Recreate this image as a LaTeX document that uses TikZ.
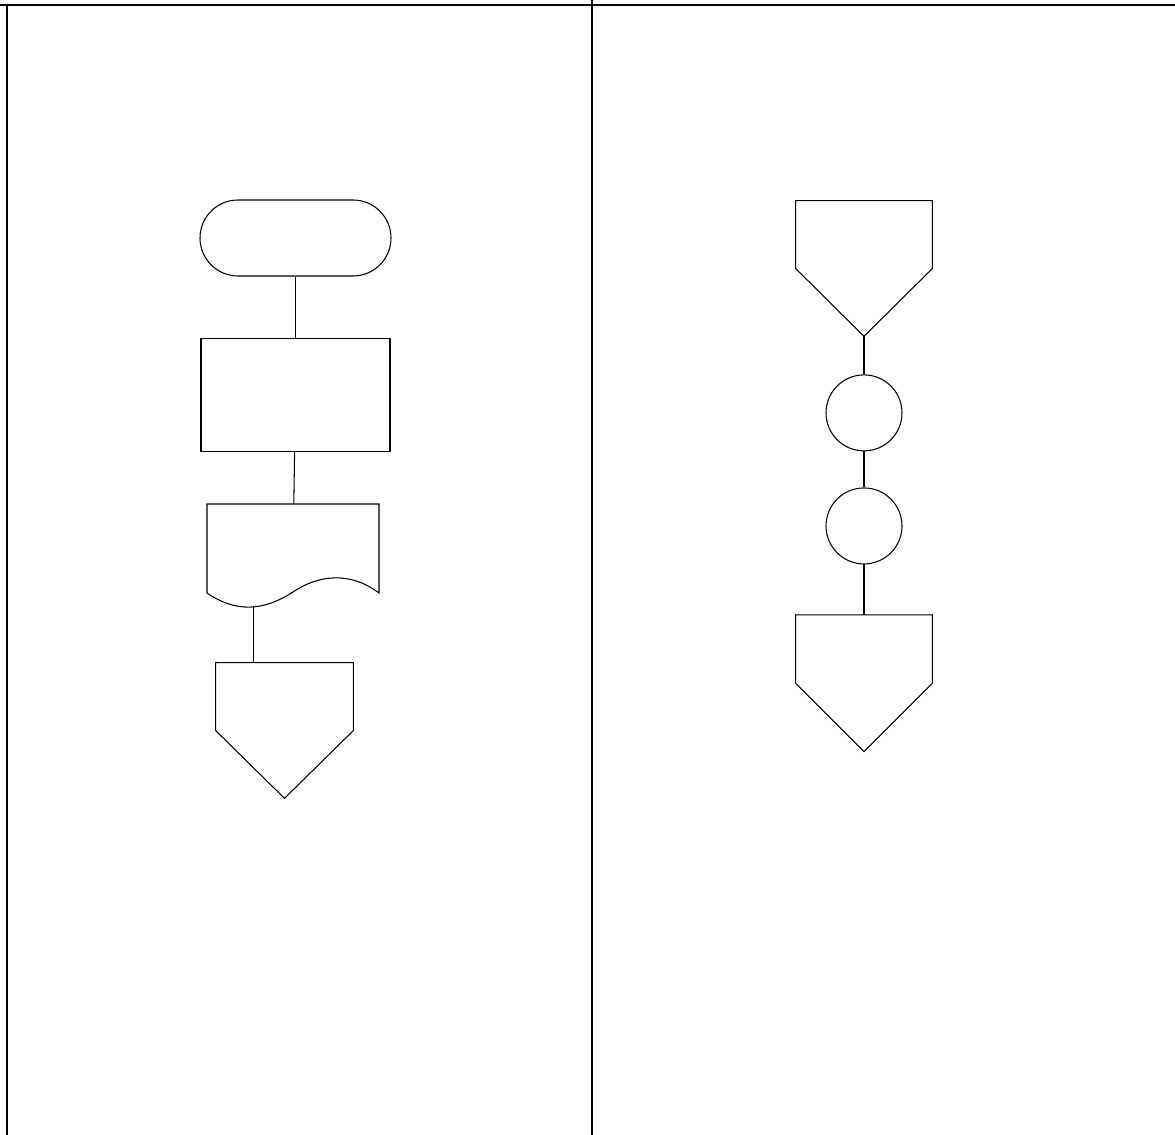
\documentclass[tikz,border=0pt]{standalone}
\usepackage{tikz}
\usetikzlibrary{positioning,shapes.misc}

\begin{document}
\begin{tikzpicture}[x=0.2mm,y=-0.2mm,
  ln/.style={line width=0.6pt},
  frm/.style={line width=1.5pt},
  term/.style={draw,ln,rounded rectangle,inner sep=0pt,minimum width=38.2mm,minimum height=15.2mm},
  proc/.style={draw,ln,rectangle,inner sep=0pt,minimum width=37.8mm,minimum height=22.6mm},
  conn/.style={draw,ln,circle,inner sep=0pt,minimum size=15.2mm},
  pent/.style={rectangle,inner sep=0pt,minimum width=27.2mm,minimum height=27mm},
  docbox/.style={rectangle,inner sep=0pt,minimum width=34.4mm,minimum height=20.4mm}]
\useasboundingbox (0,0) rectangle (1175,1135);
% frame of the two lanes
\draw[frm] (0,5) -- (1175,5);
\draw[frm] (7,5) -- (7,1135);
\draw[frm] (592,0) -- (592,1135);
% left lane
\node[term] (start) at (295.5,238) {};
\node[proc,below=12.2mm of start] (task) {};
\node[docbox] (doc) at (293,555) {};
\node[pent,minimum width=27.4mm] (offa) at (284.5,730.5) {};
\draw[ln] (207,593) -- (207,504) -- (379,504) -- (379,593)
  .. controls (350,571) and (318,575) .. (293,592)
  .. controls (262,612) and (235,612) .. (207,593);
\coordinate (docout) at (253.5,606);
\draw[ln] (start) -- (task);
\draw[ln] (task) -- (doc);
\draw[ln] (docout) -- (docout |- offa.north);
% right lane
\node[pent] (offb) at (864,268.5) {};
\node[conn,below=7.6mm of offb] (ca) {};
\node[conn,below=7.2mm of ca] (cb) {};
\node[pent,below=10.1mm of cb,minimum height=27.2mm] (offc) {};
\draw[ln] (offb) -- (ca);
\draw[ln] (ca) -- (cb);
\draw[ln] (cb) -- (offc);
\foreach \n in {offa,offb,offc}
  \draw[ln] (\n.north west) -- (\n.north east) -- (\n.east) -- (\n.south) -- (\n.west) -- cycle;
\end{tikzpicture}
\end{document}
